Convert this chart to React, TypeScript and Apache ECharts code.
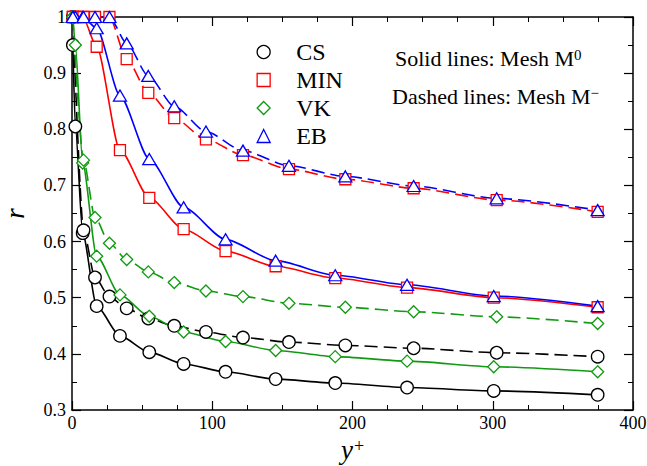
import React, { useEffect, useRef } from "react";
import * as echarts from "echarts";

// y+ locations of the two meshes
const yPlusM0 = [0.6, 2.4, 7.6, 17.6, 34.2, 55.1, 79.6, 109.5, 145.2, 187.7, 238.9, 300.7, 374.8];
const yPlusMm = [0.6, 8.2, 16.4, 26.7, 39.0, 54.4, 72.9, 95.5, 121.9, 154.7, 194.9, 243.6, 302.8, 374.8];

// r values, solid lines (mesh M0)
const csM0 = [0.95, 0.805, 0.615, 0.485, 0.432, 0.403, 0.382, 0.368, 0.355, 0.348, 0.34, 0.334, 0.327];
const minM0 = [1, 1, 1, 0.947, 0.763, 0.678, 0.622, 0.583, 0.556, 0.535, 0.518, 0.5, 0.483];
const vkM0 = [1, 0.95, 0.74, 0.574, 0.505, 0.467, 0.439, 0.422, 0.406, 0.395, 0.387, 0.377, 0.368];
const ebM0 = [1, 1, 1, 0.98, 0.86, 0.747, 0.661, 0.604, 0.566, 0.54, 0.523, 0.503, 0.485];

// r values, dashed lines (mesh M-)
const csMm = [1, 0.62, 0.536, 0.502, 0.481, 0.463, 0.45, 0.439, 0.429, 0.421, 0.415, 0.41, 0.402, 0.395];
const minMm = [1, 1, 1, 1, 0.925, 0.865, 0.82, 0.782, 0.754, 0.729, 0.711, 0.695, 0.674, 0.653];
const vkMm = [1, 0.745, 0.643, 0.597, 0.568, 0.546, 0.527, 0.512, 0.502, 0.49, 0.483, 0.475, 0.466, 0.454];
const ebMm = [1, 1, 1, 1, 0.953, 0.895, 0.841, 0.796, 0.762, 0.735, 0.716, 0.699, 0.677, 0.656];

const modelNames = ["CS", "MIN", "VK", "EB"];
const xTicks = [0, 100, 200, 300, 400];
const yTicks = [0.3, 0.4, 0.5, 0.6, 0.7, 0.8, 0.9, 1];

const FONT = "Liberation Serif";
const COLORS: Record<string, string> = { CS: "#000000", MIN: "#ff0000", VK: "#119a11", EB: "#0000ff" };
const SYMBOLS: Record<string, string> = { CS: "circle", MIN: "rect", VK: "diamond", EB: "triangle" };
const SIZES: Record<string, any> = { CS: 12.5, MIN: 11, VK: 12, EB: [13, 11] };

function zip(xs: number[], ys: number[]) {
  return xs.map((x, i) => [x, ys[i]]);
}

export default function App() {
  const ref = useRef<HTMLDivElement>(null);
  useEffect(() => {
    document.body.style.margin = "0";
    document.body.style.overflow = "hidden";
    const chart = echarts.init(ref.current!, null, { renderer: "svg" });

    const solid: Record<string, number[]> = { CS: csM0, MIN: minM0, VK: vkM0, EB: ebM0 };
    const dashed: Record<string, number[]> = { CS: csMm, MIN: minMm, VK: vkMm, EB: ebMm };

    const series: any[] = [];
    modelNames.forEach((n) => {
      const base = {
        type: "line",
        name: n,
        symbol: SYMBOLS[n],
        symbolSize: SIZES[n],
        smooth: 0.25,
        smoothMonotone: "x",
        showAllSymbol: true,
        itemStyle: { color: "#ffffff", borderColor: COLORS[n], borderWidth: 1.3 },
        emphasis: { disabled: true },
      };
      series.push({
        ...base,
        data: zip(yPlusM0, solid[n]),
        lineStyle: { color: COLORS[n], width: 1.6, type: "solid" },
      });
      series.push({
        ...base,
        data: zip(yPlusMm, dashed[n]),
        lineStyle: { color: COLORS[n], width: 1.6, type: [13, 6] },
      });
    });

    const axisLine = { show: true, onZero: false, lineStyle: { color: "#000", width: 1.5 } };
    const tickRich = { t: { fontFamily: FONT, fontSize: 18, color: "#000" } };

    chart.setOption({
      animation: false,
      textStyle: { fontFamily: FONT },
      grid: { left: 72, right: 14, top: 17, bottom: 56, containLabel: false, outerBoundsMode: "none" },
      legend: {
        show: true,
        orient: "vertical",
        left: 251.5,
        top: 33,
        itemWidth: 13,
        itemHeight: 13,
        itemGap: 0,
        selectedMode: false,
        formatter: (name: string) => `{t|${name}}`,
        textStyle: {
          fontFamily: FONT,
          fontSize: 24,
          lineHeight: 28,
          color: "#000",
          rich: { t: { fontFamily: FONT, fontSize: 24, lineHeight: 28, color: "#000", padding: [0, 0, 0, 21] } },
        },
        data: modelNames.map((n) => ({
          name: n,
          icon: SYMBOLS[n],
          itemStyle: { color: "#ffffff", borderColor: COLORS[n], borderWidth: 1.3 },
        })),
      },
      xAxis: [
        {
          type: "value",
          min: xTicks[0],
          max: xTicks[xTicks.length - 1],
          interval: 100,
          position: "bottom",
          axisLine,
          axisTick: { inside: true, length: 9, lineStyle: { color: "#000", width: 1.2 } },
          minorTick: { show: true, splitNumber: 4, length: 5, lineStyle: { color: "#000", width: 1 } },
          splitLine: { show: false },
          axisLabel: {
            fontFamily: FONT,
            fontSize: 18,
            color: "#000",
            margin: 4,
            formatter: (v: number) => `{t|${v}}`,
            rich: tickRich,
          },
          name: "{i|y}{s|+}",
          nameLocation: "middle",
          nameGap: 26,
          nameTextStyle: {
            rich: {
              i: { fontFamily: FONT, fontStyle: "italic", fontSize: 27, color: "#000" },
              s: { fontFamily: FONT, fontSize: 18, color: "#000", verticalAlign: "top", padding: [0, 0, 0, 1] },
            },
          },
        },
        {
          type: "value",
          min: xTicks[0],
          max: xTicks[xTicks.length - 1],
          interval: 100,
          position: "top",
          axisLine,
          axisTick: { inside: true, length: 9, lineStyle: { color: "#000", width: 1.2 } },
          minorTick: { show: true, splitNumber: 4, length: 5, lineStyle: { color: "#000", width: 1 } },
          splitLine: { show: false },
          axisLabel: { show: false },
        },
      ],
      yAxis: [
        {
          type: "value",
          min: yTicks[0],
          max: yTicks[yTicks.length - 1],
          interval: 0.1,
          position: "left",
          axisLine,
          axisTick: { inside: true, length: 9, lineStyle: { color: "#000", width: 1.2 } },
          minorTick: { show: true, splitNumber: 2, length: 5, lineStyle: { color: "#000", width: 1 } },
          splitLine: { show: false },
          axisLabel: {
            fontFamily: FONT,
            fontSize: 18,
            color: "#000",
            margin: 6,
            formatter: (v: number) => `{t|${Math.abs(v - 1) < 1e-9 ? "1" : v.toFixed(1)}}`,
            rich: tickRich,
          },
          name: "r",
          nameLocation: "middle",
          nameRotate: 90,
          nameGap: 44,
          nameTextStyle: { fontFamily: FONT, fontStyle: "italic", fontSize: 27, color: "#000" },
        },
        {
          type: "value",
          min: yTicks[0],
          max: yTicks[yTicks.length - 1],
          interval: 0.1,
          position: "right",
          axisLine,
          axisTick: { inside: true, length: 9, lineStyle: { color: "#000", width: 1.2 } },
          minorTick: { show: true, splitNumber: 2, length: 5, lineStyle: { color: "#000", width: 1 } },
          splitLine: { show: false },
          axisLabel: { show: false },
        },
      ],
      graphic: [
        {
          type: "text",
          x: 395,
          y: 58,
          style: {
            text: "Solid lines: Mesh M{s|0}",
            fontFamily: FONT,
            fontSize: 22,
            fill: "#000",
            verticalAlign: "middle",
            rich: { s: { fontFamily: FONT, fontSize: 15, fill: "#000", verticalAlign: "top", padding: [0, 0, 3, 0] } },
          },
        },
        {
          type: "text",
          x: 392,
          y: 96,
          style: {
            text: "Dashed lines: Mesh M{s|\u2212}",
            fontFamily: FONT,
            fontSize: 22,
            fill: "#000",
            verticalAlign: "middle",
            rich: { s: { fontFamily: FONT, fontSize: 15, fill: "#000", verticalAlign: "top", padding: [0, 0, 3, 0] } },
          },
        },
      ],
      series,
    });
    return () => chart.dispose();
  }, []);
  return <div ref={ref} style={{ width: 647, height: 466 }} />;
}
